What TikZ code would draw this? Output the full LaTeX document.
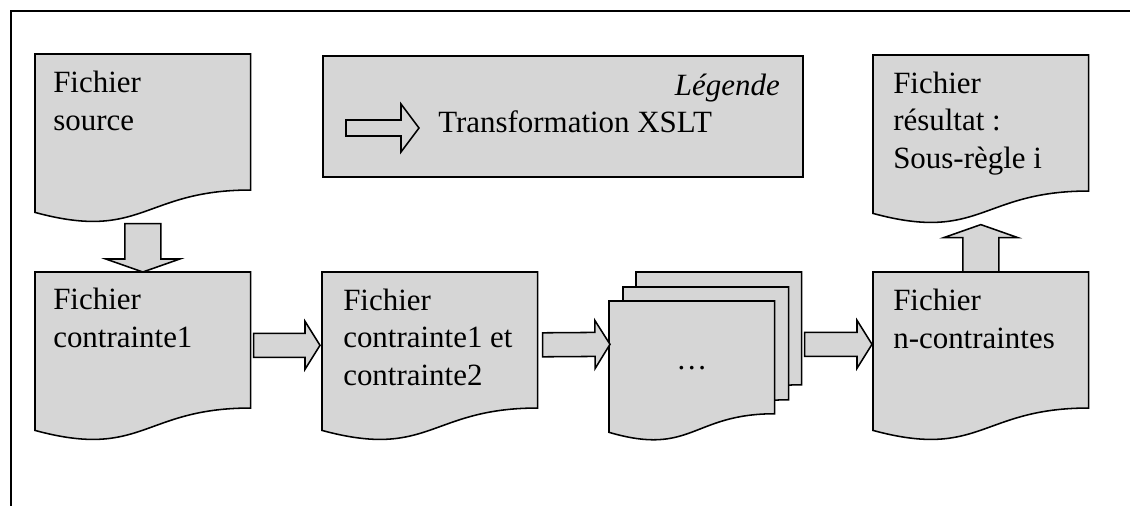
\documentclass[tikz,border=0pt]{standalone}
\usepackage{fontspec}
\setmainfont{Liberation Serif}
\usetikzlibrary{calc}

\definecolor{docgray}{gray}{0.84}
\newcommand{\docfont}{\fontsize{22}{26.6}\selectfont}
\newcommand{\docshape}[1]{%
  \draw[docline] (#1.north west) -- (#1.north east)
    -- ($(#1.north east)!0.802!(#1.south east)$)
    .. controls ($(#1.north)!0.802!(#1.south)$) and ($(#1.north)!1.107!(#1.south)$)
    .. ($(#1.north west)!0.934!(#1.south west)$) -- cycle;}
\newcommand{\blockarrow}[5]{%
  \draw[blockarr] ($(#1)!#3!90:(#2)$)
    -- ($($(#2)!#5!(#1)$)!#3!90:(#2)$)
    -- ($($(#2)!#5!(#1)$)!#4!90:(#2)$)
    -- (#2)
    -- ($($(#2)!#5!(#1)$)!#4!-90:(#2)$)
    -- ($($(#2)!#5!(#1)$)!#3!-90:(#2)$)
    -- ($(#1)!#3!-90:(#2)$) -- cycle;}
\tikzset{
  docbox/.style={rectangle, inner sep=0pt, anchor=north west, minimum width=5.375cm, minimum height=4.225cm},
  stackbox/.style={docbox, minimum width=4.125cm, minimum height=3.5cm},
  docline/.style={draw=black, line width=1.1pt, fill=docgray, line join=miter},
  blockarr/.style={draw=black, line width=1.1pt, fill=docgray, line join=miter},
  doctext/.style={anchor=base west, align=left, inner sep=0pt, font=\docfont}
}

\begin{document}
\begin{tikzpicture} [x = 0.025cm, y = -0.025cm]
\useasboundingbox (0, 0) rectangle (1130, 506);
\draw[black, line width=1pt] (1130, 11) -- (11, 11) -- (11, 506);

\node[docbox] (src) at (35, 54){};
\node[docbox] (res) at (873, 55){};
\node[docbox] (c1) at (35, 272){};
\node[docbox] (c2) at (322, 272){};
\node[docbox] (nc) at (873, 272){};
\node[stackbox] (stk3) at (636, 272){};
\node[stackbox] (stk2) at (623, 287){};
\node[stackbox] (stk1) at (609, 301){};
\node[docline, rectangle, inner sep=0pt, anchor=north west, minimum width=12cm, minimum height=3.025cm] (legend) at (322, 55){};

\docshape{src}
\docshape{res}
\docshape{c1}
\docshape{c2}
\docshape{nc}
\docshape{stk3}
\docshape{stk2}
\docshape{stk1}

\node[doctext] (srct) at ([shift={(18, 76)}]src.north west){Fichier\\source};
\node[doctext] (rest) at ([shift={(20, 113)}]res.north west){Fichier\\résultat :\\Sous-règle i};
\node[doctext] (c1t) at ([shift={(18, 75)}]c1.north west){Fichier\\contrainte1};
\node[doctext] (c2t) at ([shift={(21, 113)}]c2.north west){Fichier\\contrainte1 et\\contrainte2};
\node[doctext] (nct) at ([shift={(20, 76)}]nc.north west){Fichier\\n-contraintes};
\node[font=\docfont, inner sep=0pt] (dots) at ([yshift=2]stk1.center){\dots};
\node[doctext, anchor=base east] (legtitle) at (780, 95){\textit{Légende}};
\node[doctext] (legtext) at (438, 132){Transformation XSLT};

\coordinate (lgs) at (346, 128);
\coordinate (lgt) at (419, 128);
\coordinate (a1s) at ([shift={(3, -11.5)}]c1.east);
\coordinate (a1t) at ([shift={(-2, -11.5)}]c2.west);
\coordinate (a2s) at ([shift={(5, -12)}]c2.east);
\coordinate (a2t) at ([shift={(1, -27)}]stk1.west);
\coordinate (a3s) at ([shift={(3, 2)}]stk3.east);
\coordinate (a3t) at ([shift={(-1, -12.5)}]nc.west);

\blockarrow{lgs}{lgt}{0.2cm}{0.6cm}{0.45cm}
\blockarrow{a1s}{a1t}{0.3cm}{0.6cm}{0.375cm}
\blockarrow{a2s}{a2t}{0.3cm}{0.6cm}{0.375cm}
\blockarrow{a3s}{a3t}{0.3cm}{0.6cm}{0.375cm}
\blockarrow{src.south}{c1.north}{0.45cm}{0.925cm}{0.325cm}
\blockarrow{nc.north}{res.south}{0.45cm}{0.925cm}{0.325cm}
\end{tikzpicture}
\end{document}
